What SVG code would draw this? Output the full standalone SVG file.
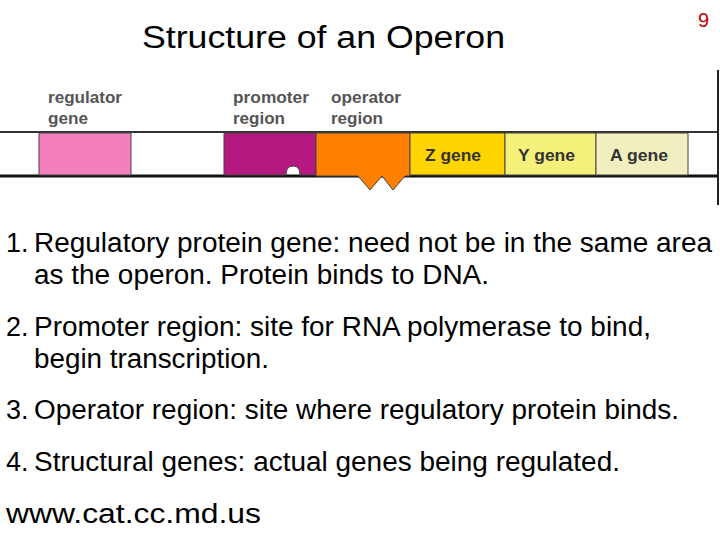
<svg xmlns="http://www.w3.org/2000/svg" width="720" height="540" viewBox="0 0 720 540">
<style>
.t{font-family:"Liberation Sans",Arial,sans-serif;font-size:27px;fill:#000}
.l{font-family:"Liberation Sans",Arial,sans-serif;font-size:17px;font-weight:bold;fill:#555}
.g{font-family:"Liberation Sans",Arial,sans-serif;font-size:17px;font-weight:bold;fill:#333}
.b{stroke:#444;stroke-width:1}
</style>
<rect width="720" height="540" fill="#fff"/>
<text x="142" y="48" class="t" style="font-size:31px" textLength="363" lengthAdjust="spacingAndGlyphs">Structure of an Operon</text>
<text x="698" y="27" class="t" style="font-size:20px;fill:#c00000">9</text>
<g id="dna">
<line x1="0" y1="132" x2="718" y2="132" stroke="#333" stroke-width="2"/>
<line x1="0" y1="176" x2="718" y2="176" stroke="#111" stroke-width="3"/>
<line x1="718" y1="70" x2="718" y2="205" stroke="#222" stroke-width="2"/>
</g>
<g id="regulator"><rect x="39" y="133" width="92" height="42" fill="#f47fbf" class="b"/>
<text x="48" y="103" class="l" textLength="74" lengthAdjust="spacingAndGlyphs">regulator</text><text x="48" y="124" class="l" textLength="40" lengthAdjust="spacingAndGlyphs">gene</text></g>
<g id="promoter"><path d="M224 133H316V175H300Q300 166 293 166Q286 166 286 175H224Z" fill="#b5197f" class="b"/>
<text x="233" y="103" class="l" textLength="76" lengthAdjust="spacingAndGlyphs">promoter</text><text x="233" y="124" class="l" textLength="52" lengthAdjust="spacingAndGlyphs">region</text></g>
<g id="operator"><path d="M316 133H410V176L405 176L393 190L382 176L370 190L358 176H316Z" fill="#ff7f00" class="b"/>
<text x="331" y="103" class="l" textLength="70" lengthAdjust="spacingAndGlyphs">operator</text><text x="331" y="124" class="l" textLength="52" lengthAdjust="spacingAndGlyphs">region</text></g>
<g id="z"><rect x="410" y="133" width="95" height="42" fill="#ffd500" class="b"/><text x="425" y="161" class="g" textLength="56" lengthAdjust="spacingAndGlyphs">Z gene</text></g>
<g id="y"><rect x="505" y="133" width="91" height="42" fill="#f5f07a" class="b"/><text x="518" y="161" class="g" textLength="57" lengthAdjust="spacingAndGlyphs">Y gene</text></g>
<g id="a"><rect x="596" y="133" width="92" height="42" fill="#f1efc0" class="b"/><text x="610" y="161" class="g" textLength="58" lengthAdjust="spacingAndGlyphs">A gene</text></g>
<g id="text">
<text x="6" y="252" class="t">1.</text><text x="34" y="252" class="t" textLength="678" lengthAdjust="spacingAndGlyphs">Regulatory protein gene: need not be in the same area</text>
<text x="34" y="284" class="t" textLength="455" lengthAdjust="spacingAndGlyphs">as the operon. Protein binds to DNA.</text>
<text x="6" y="336" class="t">2.</text><text x="34" y="336" class="t" textLength="617" lengthAdjust="spacingAndGlyphs">Promoter region: site for RNA polymerase to bind,</text>
<text x="34" y="368" class="t" textLength="235" lengthAdjust="spacingAndGlyphs">begin transcription.</text>
<text x="6" y="419" class="t">3.</text><text x="34" y="419" class="t" textLength="645" lengthAdjust="spacingAndGlyphs">Operator region: site where regulatory protein binds.</text>
<text x="6" y="471" class="t">4.</text><text x="34" y="471" class="t" textLength="586" lengthAdjust="spacingAndGlyphs">Structural genes: actual genes being regulated.</text>
<text x="6" y="523" class="t" textLength="255" lengthAdjust="spacingAndGlyphs">www.cat.cc.md.us</text>
</g>
</svg>
